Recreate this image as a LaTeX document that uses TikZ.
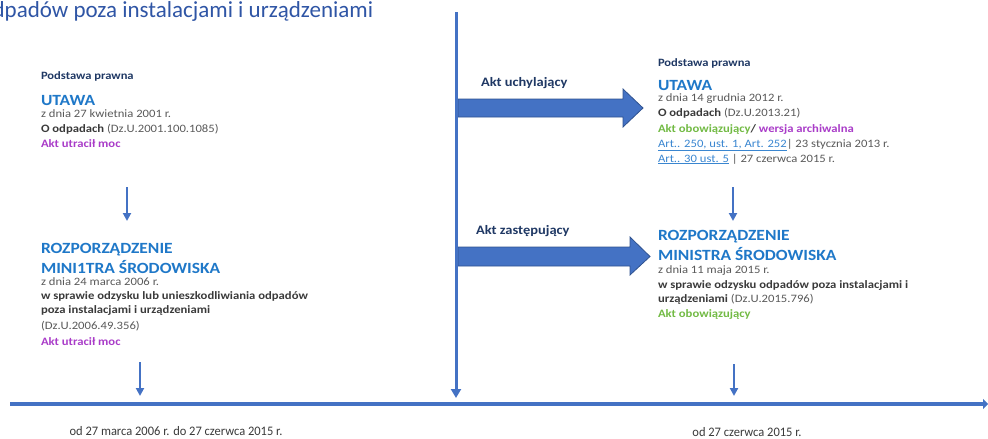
\documentclass[tikz,border=0pt]{standalone}
\usepackage{fontspec}
\setmainfont{Carlito}[FakeStretch=1.12]
\newfontfamily\titlefont{Carlito}
\newfontfamily\datefont[FakeStretch=0.96]{Carlito}
\usetikzlibrary{arrows.meta}
\definecolor{titleblue}{HTML}{2F55A5}
\definecolor{lineblue}{HTML}{4472C4}
\definecolor{edgeblue}{HTML}{2F528F}
\definecolor{headblue}{HTML}{1F78C8}
\definecolor{navy}{HTML}{1F3864}
\definecolor{txtgray}{HTML}{595959}
\definecolor{txtdark}{HTML}{3A3A3A}
\definecolor{purp}{HTML}{A93CC8}
\definecolor{grn}{HTML}{72BA44}
\definecolor{linkblue}{HTML}{3A86D0}
\tikzset{
  ln/.style={anchor=base west, inner sep=0pt, outer sep=0pt},
  lbl/.style={ln, font=\fontsize{11.2}{13}\selectfont\bfseries, text=navy},
  head/.style={ln, font=\fontsize{15.6}{18}\selectfont\bfseries, text=headblue},
  body/.style={ln, font=\fontsize{11.3}{13}\selectfont, text=txtgray},
  bodyb/.style={ln, font=\fontsize{11.3}{13}\selectfont\bfseries, text=txtdark},
  stat/.style={ln, font=\fontsize{11.3}{13}\selectfont\bfseries},
  akt/.style={ln, font=\fontsize{12.9}{15}\selectfont\bfseries, text=navy},
  small/.style={anchor=base, inner sep=0pt, font=\fontsize{13}{15}\datefont, text=txtdark},
  thin/.style={draw=lineblue, line width=2pt, -{Triangle[length=8pt,width=8pt]}},
  bigarrow/.style={fill=lineblue, draw=edgeblue, line width=0.8pt},
}
\begin{document}
\begin{tikzpicture}[x=1pt,y=-1pt]
\useasboundingbox (0,0) rectangle (988,439);
\clip (0,0) rectangle (988,439);

% title (cut at the left edge, as in the reference)
\node[ln, font=\fontsize{23}{26}\titlefont, text=titleblue] (title) at (-19.5,17) {odpadów poza instalacjami i urządzeniami};

% left upper block
\node[lbl]  (l1) at (41,79) {Podstawa prawna};
\node[head] (l2) at (41,105) {UTAWA};
\node[body] (l3) at (41,117) {z dnia 27 kwietnia 2001 r.};
\node[body] (l4) at (41,132.5) {{\bfseries\color{txtdark}O odpadach} (Dz.U.2001.100.1085)};
\node[stat, text=purp] (l5) at (41,147) {Akt utracił moc};

% left lower block
\node[head] (m1) at (41,253) {ROZPORZĄDZENIE};
\node[head] (m2) at (41,273) {MINI1TRA ŚRODOWISKA};
\node[body] (m3) at (41,285) {z dnia 24 marca 2006 r.};
\node[bodyb] (m4) at (41,299) {w sprawie odzysku lub unieszkodliwiania odpadów};
\node[bodyb] (m5) at (41,313.5) {poza instalacjami i urządzeniami};
\node[body] (m6) at (41,329.5) {(Dz.U.2006.49.356)};
\node[stat, text=purp] (m7) at (41,345) {Akt utracił moc};

% right upper block
\node[lbl]  (r1) at (658,66) {Podstawa prawna};
\node[head] (r2) at (658,90) {UTAWA};
\node[body] (r3) at (658,101.5) {z dnia 14 grudnia 2012 r.};
\node[body] (r4) at (658,116.5) {{\bfseries\color{txtdark}O odpadach} (Dz.U.2013.21)};
\node[stat] (r5) at (658,132) {{\color{grn}Akt obowiązujący}{\color{txtdark}/} {\color{purp}wersja archiwalna}};
\node[body] (r6) at (658,147) {{\color{linkblue}\underline{Art.. 250, ust. 1, Art. 252}}| 23 stycznia 2013 r.};
\node[body] (r7) at (658,162) {{\color{linkblue}\underline{Art.. 30 ust. 5}} | 27 czerwca 2015 r.};

% right lower block
\node[head] (s1) at (658,240) {ROZPORZĄDZENIE};
\node[head] (s2) at (658,260) {MINISTRA ŚRODOWISKA};
\node[body] (s3) at (658,273) {z dnia 11 maja 2015 r.};
\node[bodyb] (s4) at (658,288) {w sprawie odzysku odpadów poza instalacjami i};
\node[body] (s5) at (658,302) {{\bfseries\color{txtdark}urządzeniami} (Dz.U.2015.796)};
\node[stat, text=grn] (s6) at (658,317) {Akt obowiązujący};

% act labels
\node[akt] (a1) at (481,86.5) {Akt uchylający};
\node[akt] (a2) at (476,234) {Akt zastępujący};

% big block arrows
\draw[bigarrow] (458,99) -- (623,99) -- (623,89) -- (643,108) -- (623,127) -- (623,117) -- (458,117) -- cycle;
\draw[bigarrow] (458,247) -- (630,247) -- (630,237) -- (650,256.5) -- (630,275) -- (630,266) -- (458,266) -- cycle;

% central vertical line
\coordinate (vtop) at (456,12);
\coordinate (vbot) at (456,398);
\draw[draw=lineblue, line width=3pt, -{Triangle[length=9pt,width=10pt]}] (vtop) -- (vbot);

% timeline
\coordinate (t0) at (10,404);
\coordinate (t1) at (988,404);
\draw[draw=lineblue, line width=4pt, -{Triangle[length=5pt,width=10pt]}] (t0) -- (t1);

% small arrows between blocks
\coordinate (la0) at (127,187);
\coordinate (la1) at (127,221);
\draw[thin] (la0) -- (la1);
\coordinate (ra0) at (733,187);
\coordinate (ra1) at (733,221);
\draw[thin] (ra0) -- (ra1);

% small arrows to the timeline
\coordinate (b10) at (140,362);
\coordinate (b11) at (140,396);
\draw[thin] (b10) -- (b11);
\coordinate (b20) at (734,364);
\coordinate (b21) at (734,396);
\draw[thin] (b20) -- (b21);

% dates under the timeline
\node[small] (d1) at (176,435) {od 27 marca 2006 r. do 27 czerwca 2015 r.};
\node[small] (d2) at (747,436) {od 27 czerwca 2015 r.};
\end{tikzpicture}
\end{document}
